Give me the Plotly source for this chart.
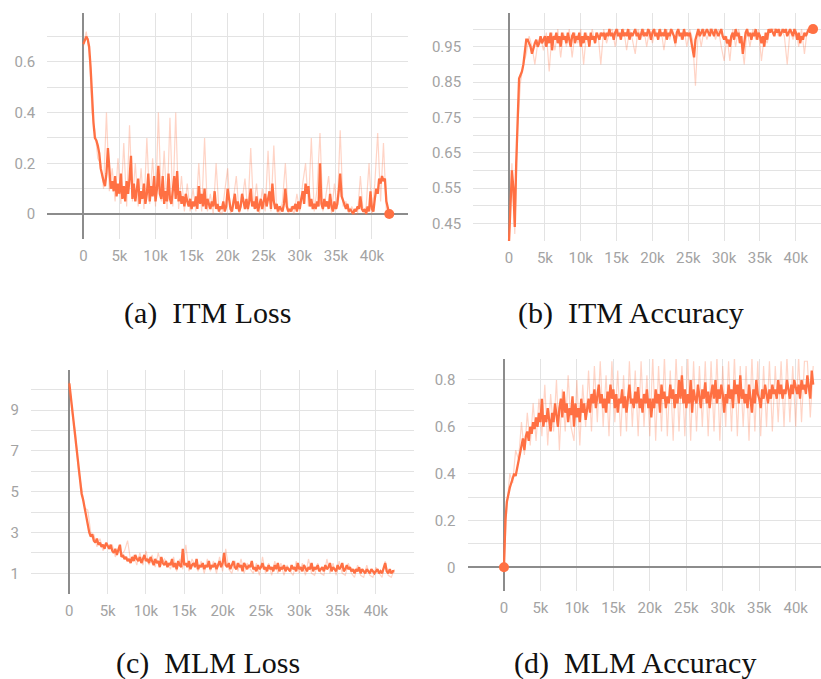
import plotly.graph_objects as go

W, H = 821, 679
STEP = 200      # training steps between smoothed points
STEP_RAW = 400  # training steps between raw points

# ---------------- data ----------------
itm_loss = [0.67,0.69,0.70,0.69,0.66,0.58,0.45,0.36,0.30,0.29,0.27,
            0.24,0.18,0.15,0.13,0.11,0.16,0.26,0.18,0.10,0.13,0.09,0.15,0.07,0.12,0.08,
            0.16,0.06,0.11,0.05,0.13,0.08,0.14,0.23,0.06,0.12,0.05,0.10,0.14,0.04,0.09,0.06,0.12,0.04,0.08,0.16,0.05,0.11,0.07,0.15,0.05,
            0.10,0.19,0.08,0.06,0.15,0.04,0.09,0.05,0.16,0.06,0.04,0.11,0.15,0.06,0.17,0.05,0.09,0.04,0.07,0.03,0.08,0.05,0.03,0.06,0.02,
            0.05,0.03,0.07,0.02,0.11,0.04,0.08,0.03,0.10,0.02,0.06,0.04,0.02,0.05,0.03,0.09,0.02,0.04,0.01,0.03,0.02,0.05,0.01,0.03,0.10,
            0.06,0.02,0.01,0.04,0.08,0.02,0.05,0.01,0.03,0.08,0.04,0.02,0.06,0.02,0.05,0.10,0.03,0.05,0.02,0.07,0.01,0.04,0.06,0.02,0.05,
            0.08,0.03,0.06,0.09,0.02,0.12,0.05,0.02,0.04,0.01,0.03,0.02,0.01,0.04,0.10,0.03,0.01,0.02,0.01,0.03,0.02,0.04,0.01,0.05,0.02,
            0.06,0.09,0.04,0.12,0.08,0.11,0.03,0.06,0.02,0.04,0.02,0.05,0.03,0.20,0.04,0.02,0.06,0.03,0.05,0.02,0.08,0.03,0.01,0.05,0.02,
            0.04,0.09,0.16,0.07,0.05,0.03,0.02,0.04,0.01,0.02,0.01,0.00,0.02,0.01,0.03,0.02,0.07,0.02,0.01,0.02,0.00,0.03,0.01,0.09,0.02,
            0.01,0.06,0.10,0.08,0.14,0.12,0.15,0.13,0.14,0.05,0.02,0.00]
itm_loss_raw = [0.66,0.72,0.64,0.40,0.33,0.22,0.20,0.10,0.40,0.09,0.18,0.05,0.22,0.04,0.28,0.03,0.35,0.05,0.20,0.03,
                0.18,0.02,0.30,0.04,0.22,0.03,0.40,0.05,0.25,0.02,0.38,0.03,0.40,0.02,0.15,0.01,0.12,0.01,0.10,0.01,
                0.20,0.01,0.30,0.01,0.08,0.00,0.20,0.01,0.00,0.10,0.18,0.00,0.06,0.15,0.00,0.05,0.14,0.01,0.26,0.02,
                0.12,0.00,0.10,0.01,0.25,0.01,0.27,0.01,0.00,0.05,0.20,0.00,0.03,0.00,0.08,0.01,0.12,0.20,0.03,0.30,
                0.01,0.10,0.32,0.01,0.07,0.15,0.00,0.12,0.02,0.33,0.03,0.05,0.00,0.03,0.00,0.00,0.15,0.00,0.03,0.20,
                0.00,0.12,0.32,0.05,0.28,0.01,0.00]

itm_acc = [0.40,0.52,0.60,0.55,0.44,0.62,0.78,0.86,0.87,0.88,0.90,
           0.93,0.97,0.97,0.96,0.95,0.93,0.95,0.96,0.97,0.95,0.96,0.98,0.96,0.97,0.98,
           0.95,0.98,0.96,0.99,0.94,0.98,0.97,0.99,0.96,0.98,0.95,0.99,0.97,0.98,0.96,0.99,0.97,0.95,0.98,0.99,0.96,0.98,0.97,0.99,0.95,
           0.98,0.96,0.99,0.97,0.98,0.95,0.99,0.97,0.98,0.96,0.99,0.98,0.97,0.99,0.98,0.99,0.97,0.99,0.98,1.00,0.98,0.99,0.97,0.99,1.00,
           0.98,0.99,0.97,1.00,0.98,0.99,0.98,1.00,0.97,0.99,0.98,0.99,1.00,0.98,0.99,0.97,0.99,1.00,0.98,0.99,0.98,1.00,0.99,0.97,0.99,
           1.00,0.98,0.99,0.97,1.00,0.98,0.99,0.98,1.00,0.97,0.99,0.98,1.00,0.99,0.98,0.96,0.99,1.00,0.98,0.99,0.97,1.00,0.98,0.99,0.98,
           0.99,0.97,0.95,0.92,0.97,0.99,1.00,0.98,0.99,1.00,0.98,0.99,1.00,0.99,0.98,1.00,0.99,0.98,1.00,0.99,0.98,0.99,1.00,0.98,0.97,
           0.98,0.96,0.97,0.95,0.98,0.99,0.97,1.00,0.98,0.99,0.96,0.98,0.93,0.97,0.99,1.00,0.98,0.99,0.97,0.99,0.98,1.00,0.97,0.99,0.98,
           0.96,0.98,0.95,0.99,0.97,1.00,0.99,1.00,0.99,0.98,1.00,0.99,1.00,0.98,0.99,1.00,0.99,1.00,0.98,0.99,1.00,0.99,0.98,1.00,0.99,
           0.97,0.99,0.96,0.98,0.97,0.99,0.98,0.99,1.00,0.99,1.00,1.00]
itm_acc_raw = [0.40,0.62,0.42,0.72,0.85,0.90,0.93,0.98,0.95,0.90,0.96,0.98,0.94,0.99,0.88,0.99,0.94,1.00,0.92,0.99,
               0.95,1.00,0.92,0.99,0.96,1.00,0.90,0.99,0.95,1.00,0.96,0.99,0.90,1.00,0.96,0.99,1.00,0.95,1.00,0.97,
               1.00,0.94,1.00,0.97,0.93,1.00,0.97,1.00,0.95,1.00,0.96,1.00,0.97,1.00,0.94,1.00,0.97,1.00,0.95,1.00,
               0.97,1.00,0.95,1.00,0.97,0.84,1.00,0.95,1.00,0.97,1.00,1.00,0.97,1.00,0.95,0.91,0.98,0.91,1.00,0.95,
               1.00,0.97,0.90,1.00,0.95,1.00,0.97,1.00,0.91,0.98,0.96,1.00,1.00,1.00,0.98,1.00,0.98,0.90,1.00,0.97,
               1.00,0.95,1.00,0.93,1.00,1.00,1.00]

mlm_loss = [10.3,9.6,9.0,8.2,7.4,6.8,6.0,5.3,4.9,4.6,4.1,
            3.8,3.4,3.0,2.8,2.9,2.6,2.5,2.7,2.4,2.5,2.3,2.4,2.2,2.5,2.3,
            2.2,2.4,2.1,2.0,2.2,1.9,2.1,2.4,1.8,1.9,1.7,1.8,1.6,1.7,1.5,1.8,1.6,1.9,1.7,1.6,1.8,1.5,1.7,1.9,1.6,
            1.7,1.5,1.8,1.6,1.4,1.7,1.5,1.6,1.3,1.8,1.5,1.4,1.6,1.3,1.5,1.4,1.7,1.3,1.5,1.2,1.6,1.4,1.3,2.2,1.4,
            1.5,1.3,1.6,1.2,1.4,1.5,1.3,1.7,1.2,1.4,1.3,1.5,1.2,1.4,1.3,1.6,1.2,1.4,1.3,1.5,1.2,1.4,1.6,1.3,1.5,
            2.0,1.4,1.3,1.5,1.2,1.4,1.6,1.3,1.2,1.5,1.3,1.4,1.1,1.5,1.3,1.2,1.4,1.3,1.6,1.2,1.3,1.1,1.4,1.2,1.3,
            1.5,1.2,1.3,1.1,1.4,1.2,1.3,1.1,1.4,1.2,1.5,1.1,1.3,1.2,1.4,1.1,1.3,1.2,1.1,1.4,1.2,1.3,1.1,1.5,1.2,
            1.3,1.1,1.4,1.2,1.1,1.3,1.2,1.5,1.1,1.3,1.2,1.4,1.1,1.2,1.3,1.1,1.4,1.2,1.3,1.5,1.1,1.3,1.2,1.1,1.4,
            1.2,1.3,1.5,1.1,1.2,1.4,1.2,1.3,1.1,1.2,1.0,1.2,1.1,1.3,1.0,1.2,1.1,1.0,1.2,1.1,1.0,1.2,1.1,1.0,1.1,
            1.2,1.0,1.1,1.0,1.2,1.5,1.1,1.0,1.2,1.0,1.1,1.1]
mlm_loss_raw = [10.4,8.8,7.9,6.0,5.2,4.2,4.1,3.0,2.9,2.3,2.7,2.1,2.5,2.2,2.4,1.8,2.2,1.9,2.1,2.6,
                1.6,1.9,1.4,2.0,1.4,2.1,1.4,1.9,1.3,2.0,1.4,1.7,1.5,1.2,1.8,1.1,1.7,1.2,2.4,1.1,
                1.7,1.4,1.1,1.6,1.0,1.7,1.1,1.6,1.0,1.8,1.1,2.2,1.2,1.0,1.6,1.1,1.7,1.0,1.5,1.2,
                1.0,1.5,0.9,1.8,1.0,1.5,0.9,1.6,1.0,1.5,0.9,1.4,1.1,0.9,1.6,1.0,1.5,0.9,1.7,1.0,
                0.9,1.5,1.0,0.9,1.7,1.0,1.5,0.9,1.6,1.0,0.9,1.5,1.0,0.8,1.4,0.9,0.8,1.4,0.9,0.8,
                1.3,1.0,0.8,1.6,0.9,0.8,1.2]

mlm_acc = [0.00,0.20,0.28,0.32,0.34,0.36,0.38,0.40,0.39,0.42,0.45,
           0.48,0.52,0.55,0.50,0.56,0.58,0.54,0.60,0.57,0.62,0.59,0.64,0.60,0.66,0.62,
           0.72,0.60,0.65,0.62,0.68,0.63,0.58,0.66,0.62,0.70,0.64,0.60,0.68,0.72,0.64,0.75,0.66,0.70,0.62,0.68,0.65,0.73,0.60,0.70,0.64,
           0.68,0.62,0.72,0.66,0.70,0.63,0.68,0.72,0.66,0.74,0.70,0.76,0.68,0.72,0.78,0.70,0.74,0.68,0.72,0.66,0.75,0.70,0.78,0.72,0.76,
           0.68,0.74,0.66,0.72,0.70,0.76,0.68,0.73,0.66,0.74,0.78,0.70,0.72,0.68,0.75,0.70,0.77,0.68,0.72,0.66,0.74,0.70,0.76,0.68,0.72,
           0.64,0.72,0.68,0.76,0.70,0.74,0.66,0.78,0.72,0.75,0.68,0.73,0.70,0.78,0.72,0.76,0.68,0.74,0.70,0.80,0.72,0.82,0.70,0.76,0.68,
           0.74,0.70,0.80,0.66,0.76,0.72,0.70,0.78,0.74,0.68,0.76,0.72,0.79,0.70,0.75,0.68,0.74,0.78,0.72,0.80,0.70,0.76,0.72,0.78,0.74,
           0.66,0.74,0.70,0.78,0.72,0.76,0.68,0.80,0.74,0.78,0.70,0.82,0.72,0.76,0.70,0.74,0.68,0.78,0.72,0.66,0.76,0.70,0.80,0.74,0.72,
           0.68,0.76,0.72,0.78,0.74,0.70,0.76,0.72,0.78,0.74,0.76,0.72,0.80,0.74,0.78,0.72,0.76,0.74,0.80,0.76,0.72,0.78,0.74,0.80,0.76,
           0.74,0.78,0.72,0.80,0.76,0.78,0.74,0.82,0.76,0.72,0.84,0.78]
mlm_acc_raw = [0.00,0.26,0.40,0.36,0.50,0.46,0.62,0.48,0.66,0.52,0.70,0.54,0.72,0.56,0.78,0.52,0.74,0.58,0.80,0.50,
               0.76,0.58,0.82,0.60,0.54,0.80,0.52,0.78,0.60,0.84,0.58,0.86,0.62,0.88,0.60,0.82,0.56,0.88,0.62,0.84,
               0.56,0.82,0.58,0.88,0.60,0.84,0.56,0.88,0.60,0.82,0.56,0.90,0.54,0.86,0.58,0.90,0.56,0.84,0.54,0.90,
               0.58,0.86,0.56,0.90,0.54,0.88,0.58,0.86,0.60,0.88,0.56,0.88,0.58,0.90,0.54,0.86,0.60,0.88,0.58,0.90,
               0.56,0.86,0.60,0.86,0.54,0.90,0.58,0.88,0.56,0.86,0.60,0.88,0.58,0.86,0.62,0.88,0.60,0.90,0.62,0.86,
               0.60,0.90,0.62,0.88,0.88,0.64,0.86]

x_tick_vals = [-5000, 0, 5000, 10000, 15000, 20000, 25000, 30000, 35000, 40000, 45000]
x_tick_text = ["", "0", "5k", "10k", "15k", "20k", "25k", "30k", "35k", "40k", ""]

loss_a_ticks = [-0.1, 0.0, 0.1, 0.2, 0.3, 0.4, 0.5, 0.6, 0.7]
loss_a_text = ["", "0", "", "0.2", "", "0.4", "", "0.6", ""]
acc_b_ticks = [0.40, 0.45, 0.50, 0.55, 0.60, 0.65, 0.70, 0.75, 0.80, 0.85, 0.90, 0.95, 1.00]
acc_b_text = ["", "0.45", "", "0.55", "", "0.65", "", "0.75", "", "0.85", "", "0.95", ""]
loss_c_ticks = [0, 1, 2, 3, 4, 5, 6, 7, 8, 9, 10]
loss_c_text = ["", "1", "", "3", "", "5", "", "7", "", "9", ""]
acc_d_ticks = [-0.1, 0.0, 0.1, 0.2, 0.3, 0.4, 0.5, 0.6, 0.7, 0.8]
acc_d_text = ["", "0", "", "0.2", "", "0.4", "", "0.6", "", "0.8"]

captions = ["(a)\u00a0 ITM Loss", "(b)\u00a0 ITM Accuracy", "(c)\u00a0 MLM Loss", "(d)\u00a0 MLM Accuracy"]

# ---------------- styling ----------------
MAIN = "#ff7043"
RAW = "rgba(255,112,67,0.3)"
GRID = "#e3e3e3"
ZERO = "#8c8c8c"
TICKC = "#a3a3a3"
TICKFONT = dict(family="Roboto", size=15, color=TICKC)


def steps(vals, step):
    return [i * step for i in range(len(vals))]


def px_dom_x(a, b):
    return [a / W, min(b / W, 1.0)]


def px_dom_y(top, bottom):
    return [1 - bottom / H, 1 - top / H]


fig = go.Figure()

panels = [
    # main, raw, axis id, x px domain, x range, y px domain, y range, yticks, ytext, dot index, y zeroline
    (itm_loss, itm_loss_raw, "", (47.3, 408.0), [-5000, 45000], (12.5, 239.4), [-0.1, 0.795],
     loss_a_ticks, loss_a_text, -1, True),
    (itm_acc, itm_acc_raw, "2", (473.2, 821.0), [-5000, 43510], (13.2, 241.0), [0.40, 1.045],
     acc_b_ticks, acc_b_text, -1, False),
    (mlm_loss, mlm_loss_raw, "3", (31.0, 414.3), [-5000, 45000], (370.2, 593.7), [0, 10.95],
     loss_c_ticks, loss_c_text, None, False),
    (mlm_acc, mlm_acc_raw, "4", (467.5, 821.0), [-5000, 43470], (358.9, 590.7), [-0.1, 0.89],
     acc_d_ticks, acc_d_text, 0, True),
]

layout_axes = {}
for main, raw, ax, xd, xr, yd, yr, ytv, ytt, dot, yzero in panels:
    xs = steps(main, STEP)
    xref = "x" + ax
    yref = "y" + ax
    fig.add_trace(go.Scatter(x=steps(raw, STEP_RAW), y=raw, mode="lines", line=dict(color=RAW, width=1.2),
                             xaxis=xref, yaxis=yref, showlegend=False, hoverinfo="skip"))
    fig.add_trace(go.Scatter(x=xs, y=main, mode="lines", line=dict(color=MAIN, width=2.3),
                             xaxis=xref, yaxis=yref, showlegend=False))
    if dot is not None:
        fig.add_trace(go.Scatter(x=[xs[dot]], y=[main[dot]], mode="markers",
                                 marker=dict(color=MAIN, size=10), xaxis=xref, yaxis=yref,
                                 showlegend=False))
    layout_axes["xaxis" + ax] = dict(
        domain=px_dom_x(*xd), range=xr, anchor=yref, tickmode="array",
        tickvals=x_tick_vals, ticktext=x_tick_text, showgrid=True, gridcolor=GRID, gridwidth=1,
        zeroline=True, zerolinecolor=ZERO, zerolinewidth=1.5, showline=False, ticks="",
        tickfont=TICKFONT, ticklabelstandoff=6, fixedrange=True,
    )
    layout_axes["yaxis" + ax] = dict(
        domain=px_dom_y(*yd), range=yr, anchor=xref, tickmode="array",
        tickvals=ytv, ticktext=ytt, showgrid=True, gridcolor=GRID, gridwidth=1,
        zeroline=yzero, zerolinecolor=ZERO, zerolinewidth=1.5, showline=False, ticks="",
        tickfont=TICKFONT, ticklabelstandoff=11, fixedrange=True,
    )

fig.update_layout(**layout_axes)

cap_pos = [(207, 313), (631, 313), (208, 663), (635, 663)]
for text, (cx, cy) in zip(captions, cap_pos):
    fig.add_annotation(x=cx / W, y=1 - cy / H, xref="paper", yref="paper", text=text,
                       showarrow=False, xanchor="center", yanchor="middle",
                       font=dict(family="Liberation Serif", size=30, color="#111111"))

fig.update_layout(width=W, height=H, margin=dict(l=0, r=0, t=0, b=0),
                  paper_bgcolor="white", plot_bgcolor="white", showlegend=False)

fig.write_html("out.html", config={"displayModeBar": False},
               post_script="document.body.style.margin='0';document.body.style.overflow='hidden';")
